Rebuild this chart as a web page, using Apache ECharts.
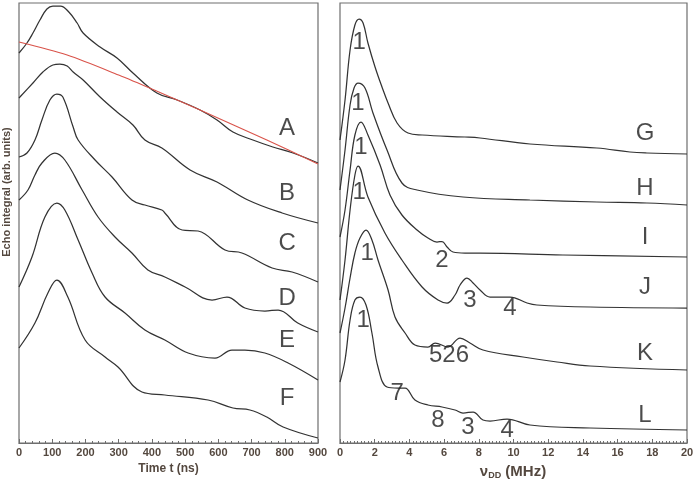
<!DOCTYPE html>
<html>
<head>
<meta charset="utf-8">
<script src="https://cdn.jsdelivr.net/npm/echarts@6/dist/echarts.min.js"></script>
<style>
html,body{margin:0;padding:0;background:#fff;}
#chart{width:697px;height:486px;}
</style>
</head>
<body>
<div id="chart"></div>
<script>
// ---- Left panel: echo integral vs time t (ns), arbitrary stacked units ----
const timeTicks = [0,100,200,300,400,500,600,700,800,900];
const traceA = [[0,390],[24,400],[42,410],[63,423],[84,434],[102,437],[125,437],[150,431],[175,420],[193,410],[244,396],[295,385],[343,370],[415,350],[476,343],[545,333],[596,323],[644,311],[704,303],[764,296],[825,290],[900,280]];
const traceB = [[0,345],[42,360],[72,371],[102,378],[123,379],[145,377],[163,371],[193,363],[244,346],[295,331],[343,318],[379,303],[430,295],[515,273],[596,261],[689,243],[792,230],[900,220]];
const traceC = [[0,286],[24,290],[48,303],[69,323],[93,343],[114,349],[132,346],[163,316],[178,303],[229,283],[280,266],[340,243],[379,238],[430,233],[439,230],[491,213],[539,212],[620,193],[671,190],[762,175],[822,171],[900,161]];
const traceD = [[0,243],[27,253],[48,268],[69,280],[108,290],[138,283],[190,253],[238,226],[289,206],[340,190],[388,173],[439,166],[500,156],[581,143],[626,146],[680,135],[740,132],[780,133],[839,120],[900,111]];
const traceE = [[0,156],[39,186],[78,226],[114,240],[138,233],[178,203],[220,170],[259,146],[319,130],[379,113],[439,103],[509,90],[590,85],[641,93],[680,93],[740,90],[810,80],[900,63]];
const traceF = [[0,95],[48,120],[87,150],[114,163],[147,146],[199,103],[259,86],[298,76],[370,51],[439,48],[569,43],[644,35],[695,33],[746,26],[795,16],[900,5]];
const fitLine = [[0,401],[145,388],[300,368],[414,352],[545,333],[746,303],[900,279]];
const leftLabels = [[807,315,'A'],[807,250,'B'],[807,200,'C'],[807,145,'D'],[807,103,'E'],[807,45,'F']];

// ---- Right panel: spectra vs nu_DD (MHz) ----
const freqTicks = [0,2,4,6,8,10,12,14,16,18,20];
const specG = [[0,303],[0.29,343],[0.58,393],[0.86,418],[1.10,424],[1.33,420],[1.61,400],[2.02,376],[2.42,356],[2.77,340],[3.29,320],[3.92,310],[4.73,308],[7.2,306],[8.07,305],[10.95,299],[14.81,295],[16.71,291],[17.69,290],[20,289]];
const specH = [[0,253],[0.29,293],[0.58,338],[0.81,355],[1.04,360],[1.44,355],[1.90,330],[2.71,293],[3.57,260],[4.44,253],[7.09,246],[10.95,243],[14.81,241],[17.69,240],[20,238]];
const specI = [[0,206],[0.29,233],[0.58,273],[0.86,308],[1.21,321],[1.61,308],[2.31,278],[2.88,248],[3.57,228],[4.44,213],[5.07,205],[5.59,201],[5.88,201.5],[6.17,196],[6.51,191],[7.2,190],[8.07,190],[12.85,188],[20,186]];
const specJ = [[0,143],[0.29,183],[0.58,233],[0.86,268],[1.04,277],[1.61,246],[2.59,210],[3.57,183],[4.73,156],[5.65,143],[6.17,140],[6.63,148],[6.92,158],[7.32,165],[7.67,160],[8.07,153],[8.65,146],[9.8,146],[10.78,140],[11.35,138],[14.41,136],[20,135]];
const specK = [[0,110],[0.29,135],[0.58,165],[0.86,190],[1.15,205],[1.50,213],[1.84,203],[2.19,183],[2.77,153],[3.17,126],[3.75,110],[4.32,98],[5.07,96],[5.48,100],[6.22,96],[6.92,105],[7.49,100],[8.24,93],[10.55,86],[12.51,81],[14.41,77],[20,73]];
const specL = [[0,61],[0.29,83],[0.58,123],[0.86,143],[1.15,146],[1.50,138],[1.84,110],[2.19,76],[2.71,56],[3.34,55],[3.75,55],[4.32,43],[5.07,38],[5.88,36],[6.63,33],[7.09,30],[7.67,31],[8.24,23],[8.65,22],[9.63,24],[10.95,18],[14.41,15],[20,13]];
const rightLabels = [[17.58,310,'G'],[17.58,255,'H'],[17.58,206,'I'],[17.58,156,'J'],[17.58,90,'K'],[17.58,28,'L']];
const peakLabels = [[1.10,401,'1'],[1.04,340,'1'],[1.21,296,'1'],[1.10,251,'1'],[1.56,190,'1'],[1.33,123,'1'],
  [5.88,183,'2'],[7.49,143,'3'],[9.80,135,'4'],[6.28,88,'526'],[3.29,50,'7'],[5.65,23,'8'],[7.38,16,'3'],[9.63,13,'4']];

const FONT = 'Liberation Sans, Arial, sans-serif';
const axisCol = '#6e6e6e';
const tickLabelCol = '#54483f';
const traceCol = '#333333';

function traceSeries(data, xi) {
  return {type:'line', xAxisIndex:xi, yAxisIndex:xi, data:data, smooth:0.4, symbol:'none',
    lineStyle:{color:traceCol, width:1.25}, silent:true, z:3};
}
function labelSeries(list, xi, size) {
  return {type:'scatter', xAxisIndex:xi, yAxisIndex:xi, symbolSize:1, itemStyle:{color:'rgba(0,0,0,0)'},
    data:list.map(d => ({value:[d[0], d[1]], name:d[2]})),
    label:{show:true, position:'inside', formatter:p => p.name, color:'#1e1e1e', fontSize:size, fontFamily:FONT},
    silent:true, z:5};
}
function xAxisCfg(gi, min, max, interval, ticks, minorSplit, name, nameGap) {
  return {type:'value', gridIndex:gi, min:min, max:max, interval:interval,
    axisLine:{show:true, lineStyle:{color:axisCol, width:1.2}},
    axisTick:{show:true, inside:true, length:4, lineStyle:{color:axisCol}},
    minorTick:{show:true, splitNumber:minorSplit, length:2, lineStyle:{color:axisCol}},
    axisLabel:{color:tickLabelCol, fontSize:11, fontWeight:'bold', fontFamily:FONT, margin:4,
      formatter:v => ticks.includes(v) ? String(v) : ''},
    splitLine:{show:false},
    name:name, nameLocation:'middle', nameGap:nameGap,
    nameTextStyle:{color:tickLabelCol, fontSize:12, fontWeight:'bold', fontFamily:FONT}};
}
function yAxisCfg(gi) {
  return {type:'value', gridIndex:gi, min:0, max:440, axisLine:{show:false}, axisTick:{show:false},
    axisLabel:{show:false}, splitLine:{show:false}};
}

const chart = echarts.init(document.getElementById('chart'), null, {renderer:'canvas'});
chart.setOption({
  animation:false,
  backgroundColor:'#fff',
  grid:[
    {left:19, right:379, top:3, bottom:43, show:true, borderColor:axisCol, borderWidth:1.2},
    {left:340, right:10, top:3, bottom:43, show:true, borderColor:axisCol, borderWidth:1.2}
  ],
  xAxis:[
    xAxisCfg(0, 0, 900, 100, timeTicks, 5, 'Time t (ns)', 19),
    xAxisCfg(1, 0, 20, 2, freqTicks, 10, '', 20)
  ],
  yAxis:[yAxisCfg(0), yAxisCfg(1)],
  graphic:[
    {type:'text', x:7, y:192, rotation:Math.PI/2,
      style:{text:'Echo integral (arb. units)', fill:tickLabelCol, font:'bold 11px ' + FONT, align:'center', verticalAlign:'middle'}},
    {type:'text', x:513, y:472,
      style:{text:'{a|ν}{b|DD}{a| (MHz)}', align:'center', verticalAlign:'middle',
        rich:{a:{fill:tickLabelCol, fontSize:15, fontWeight:'bold', fontFamily:FONT},
              b:{fill:tickLabelCol, fontSize:9, fontWeight:'bold', fontFamily:FONT, padding:[7,0,0,0]}}}}
  ],
  series:[
    traceSeries(traceA,0), traceSeries(traceB,0), traceSeries(traceC,0),
    traceSeries(traceD,0), traceSeries(traceE,0), traceSeries(traceF,0),
    {type:'line', xAxisIndex:0, yAxisIndex:0, data:fitLine, smooth:0.3, symbol:'none',
      lineStyle:{color:'#d9534a', width:1.1}, silent:true, z:4},
    labelSeries(leftLabels, 0, 24),
    traceSeries(specG,1), traceSeries(specH,1), traceSeries(specI,1),
    traceSeries(specJ,1), traceSeries(specK,1), traceSeries(specL,1),
    labelSeries(rightLabels, 1, 24),
    labelSeries(peakLabels, 1, 24)
  ]
});
</script>
</body>
</html>
